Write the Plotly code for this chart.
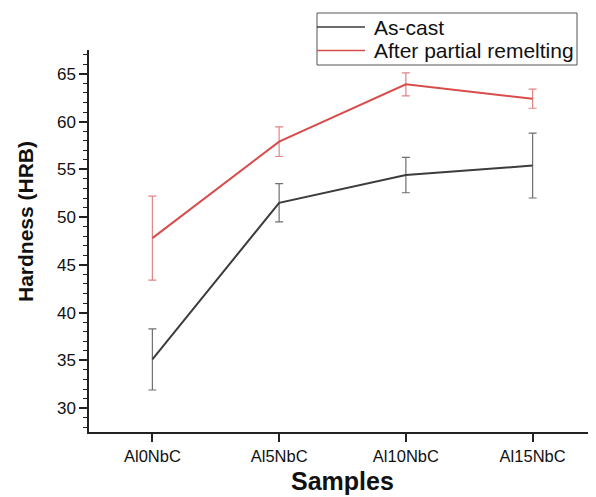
import plotly.graph_objects as go

samples = ["Al0NbC", "Al5NbC", "Al10NbC", "Al15NbC"]
as_cast = [35.1, 51.5, 54.4, 55.4]
as_cast_err = [3.2, 2.0, 1.85, 3.4]
remelt = [47.8, 57.9, 63.9, 62.4]
remelt_err = [4.4, 1.55, 1.2, 1.0]
y_ticks = [30, 35, 40, 45, 50, 55, 60, 65]
series_names = ["As-cast", "After partial remelting"]
series_colors = ["#3c3c3c", "#d84c4c"]
err_colors = ["#707070", "#e08585"]

FONT = "Liberation Sans, Arial, sans-serif"

# the page body has an 8px default margin; figure is sized to fill the rest
W, H = 588, 489
L, R, T, B = 81, 0, 42, 65
PW, PH = W - L - R, H - T - B


def px(xr):
    # reference-window x pixel -> paper x
    return (xr - 8 - L) / PW


def py(yr):
    # reference-window y pixel -> paper y
    return (H - B - (yr - 8)) / PH


fig = go.Figure()
for name, vals, errs, col, ecol in zip(series_names, [as_cast, remelt],
                                       [as_cast_err, remelt_err],
                                       series_colors, err_colors):
    fig.add_trace(go.Scatter(
        x=samples, y=vals, mode="lines", name=name, showlegend=False,
        line=dict(color=col, width=2),
        error_y=dict(type="data", array=errs, color=ecol, thickness=1.2, width=4),
    ))

shapes = [dict(type="rect", xref="paper", yref="paper",
               x0=px(317), x1=px(577), y0=py(65), y1=py(13),
               line=dict(color="#555", width=1), fillcolor="white", layer="above")]
annotations = []
for i, (name, col) in enumerate(zip(series_names, series_colors)):
    yy = py(27 + i * 23.5)
    shapes.append(dict(type="line", xref="paper", yref="paper",
                       x0=px(317), x1=px(365), y0=yy, y1=yy,
                       line=dict(color=col, width=1.5), layer="above"))
    annotations.append(dict(text=name, xref="paper", yref="paper", x=px(372), y=yy,
                            xanchor="left", yanchor="middle", showarrow=False,
                            font=dict(size=21, family=FONT, color="#111")))

annotations += [
    dict(text="<b>Samples</b>", xref="paper", yref="paper", x=0.5, y=py(481),
         xanchor="center", yanchor="middle", showarrow=False,
         font=dict(size=25, family=FONT, color="#111")),
    dict(text="<b>Hardness (HRB)</b>", xref="paper", yref="paper",
         x=px(25), y=py(222), textangle=-90,
         xanchor="center", yanchor="middle", showarrow=False,
         font=dict(size=21, family=FONT, color="#111")),
]

fig.update_layout(
    width=W, height=H,
    margin=dict(l=L, r=R, t=T, b=B, autoexpand=False),
    plot_bgcolor="white", paper_bgcolor="white",
    font=dict(family=FONT, color="#111"),
    showlegend=False,
    shapes=shapes,
    annotations=annotations,
)
fig.update_xaxes(
    type="category", range=[-0.5, 3.5], automargin=False,
    showline=True, linecolor="#222", linewidth=1.5,
    ticks="outside", ticklen=8, tickwidth=1.5, tickcolor="#222",
    showgrid=False, zeroline=False,
    tickfont=dict(size=16.5, family=FONT, color="#111"),
)
fig.update_yaxes(
    range=[27.5, 67.5], automargin=False,
    tickvals=y_ticks,
    showline=True, linecolor="#222", linewidth=1.5,
    ticks="outside", ticklen=8, tickwidth=1.5, tickcolor="#222",
    minor=dict(dtick=1, ticks="outside", ticklen=4, tickwidth=1, tickcolor="#222", showgrid=False),
    showgrid=False, zeroline=False,
    tickfont=dict(size=17, family=FONT, color="#111"),
)

fig.write_html("out.html")
